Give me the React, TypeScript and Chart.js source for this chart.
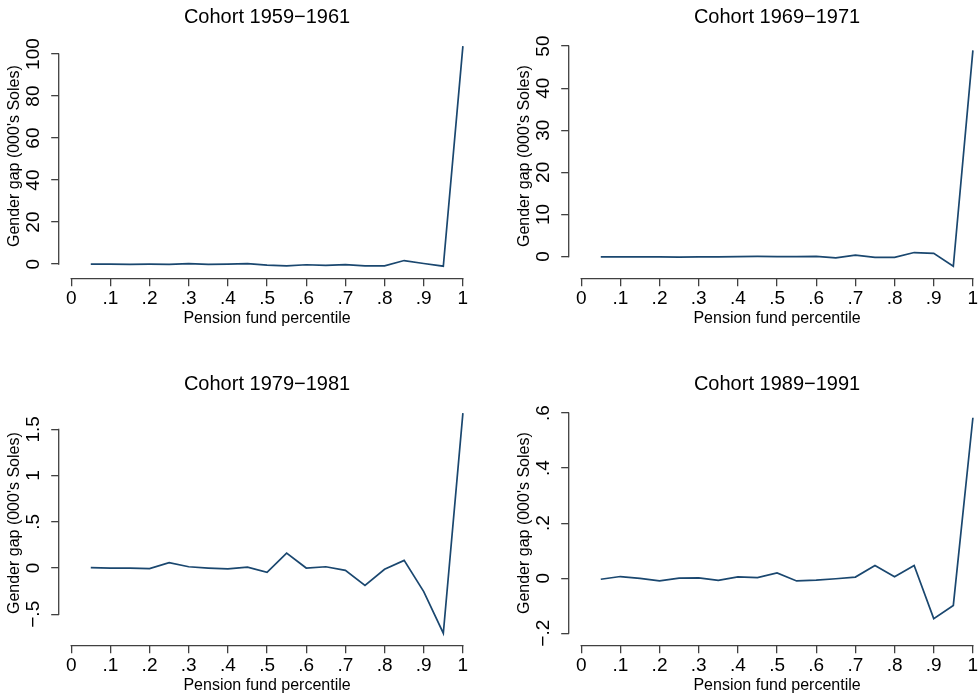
import React, { useEffect, useRef } from "react";
import { Chart, registerables } from "chart.js";

Chart.register(...registerables);

// ---------------- data ----------------
const percentiles = [0.05, 0.1, 0.15, 0.2, 0.25, 0.3, 0.35, 0.4, 0.45, 0.5, 0.55, 0.6, 0.65, 0.7, 0.75, 0.8, 0.85, 0.9, 0.95, 1.0];

const gap1959 = [0, 0, -0.1, 0, -0.1, 0.2, -0.1, 0, 0.2, -0.5, -0.8, -0.3, -0.6, -0.2, -0.8, -0.8, 1.7, 0.3, -1.0, 103.8];
const gap1969 = [-0.1, -0.1, -0.1, -0.1, -0.15, -0.1, -0.1, 0, 0.05, 0, 0, 0.05, -0.3, 0.35, -0.2, -0.2, 0.95, 0.75, -2.3, 49.0];
const gap1979 = [0.004, 0, 0, -0.007, 0.058, 0.014, 0, -0.01, 0.01, -0.047, 0.162, 0, 0.014, -0.025, -0.187, -0.014, 0.083, -0.255, -0.705, 1.676];
const gap1989 = [-0.004, 0.006, -0.001, -0.01, 0, 0.001, -0.008, 0.005, 0.002, 0.019, -0.01, -0.007, -0.002, 0.004, 0.046, 0.005, 0.046, -0.147, -0.099, 0.583];

const titles = ["Cohort 1959\u22121961", "Cohort 1969\u22121971", "Cohort 1979\u22121981", "Cohort 1989\u22121991"];

const xTickValues = [0, 0.1, 0.2, 0.3, 0.4, 0.5, 0.6, 0.7, 0.8, 0.9, 1];
const xTickLabels = ["0", ".1", ".2", ".3", ".4", ".5", ".6", ".7", ".8", ".9", "1"];

const yTicks1959 = [0, 20, 40, 60, 80, 100];
const yLabels1959 = ["0", "20", "40", "60", "80", "100"];
const yTicks1969 = [0, 10, 20, 30, 40, 50];
const yLabels1969 = ["0", "10", "20", "30", "40", "50"];
const yTicks1979 = [-0.5, 0, 0.5, 1, 1.5];
const yLabels1979 = ["\u2212.5", "0", ".5", "1", "1.5"];
const yTicks1989 = [-0.2, 0, 0.2, 0.4, 0.6];
const yLabels1989 = ["\u2212.2", "0", ".2", ".4", ".6"];

const xTitle = "Pension fund percentile";
const yTitle = "Gender gap (000's Soles)";

// ---------------- styles / layout ----------------
const FONT = '"Liberation Sans", Arial, Helvetica, sans-serif';
const LINE_COLOR = "#1a476f";
const AXIS_COLOR = "#404040";
const TEXT_COLOR = "#000000";

const PANEL_W = 490;
const PANEL_H = 330;
const AXIS_LEFT = 58.7; // width of y-axis box
const X_AXIS_H = 51.3; // height of x-axis box
const PAD = 12.5; // gap between plot region and axis lines
const PLOT_W = 391.7;
const PLOT_H = 220.3;
const TICK_LEN = 7.5;
const TICK_FONT = 19;
const Y_LABEL_OFFSET = 24.7; // axis line -> centre of rotated y tick labels

function labelFor(values: number[], labels: string[], v: number): string {
  for (let i = 0; i < values.length; i++) {
    if (Math.abs(values[i] - v) < 1e-9) return labels[i];
  }
  return "";
}

function measureWidest(labels: string[]): number {
  const c = document.createElement("canvas");
  const ctx = c.getContext("2d");
  if (!ctx) return 0;
  ctx.font = `${TICK_FONT}px ${FONT}`;
  let w = 0;
  for (const l of labels) w = Math.max(w, ctx.measureText(l).width);
  return w;
}

type PanelProps = {
  title: string;
  ys: number[];
  yTicks: number[];
  yLabels: string[];
  left: number;
  top: number;
};

function Panel({ title, ys, yTicks, yLabels, left, top }: PanelProps) {
  const ref = useRef<HTMLCanvasElement | null>(null);

  useEffect(() => {
    if (!ref.current) return;
    const lo = Math.min(Math.min(...ys), yTicks[0]);
    const hi = Math.max(Math.max(...ys), yTicks[yTicks.length - 1]);
    const yPad = ((hi - lo) * PAD) / PLOT_H;
    const xPad = PAD / PLOT_W;
    const widest = measureWidest(yLabels);
    const yTickPadding = Y_LABEL_OFFSET - TICK_LEN - widest / 2;

    const axisLines = {
      id: "stataAxes",
      afterDraw(chart: any) {
        const { ctx, chartArea, scales } = chart;
        const x = scales.x;
        const y = scales.y;
        ctx.save();
        ctx.strokeStyle = AXIS_COLOR;
        ctx.lineWidth = 1.3;
        ctx.lineCap = "square";
        ctx.beginPath();
        ctx.moveTo(chartArea.left, y.getPixelForValue(yTicks[0]));
        ctx.lineTo(chartArea.left, y.getPixelForValue(yTicks[yTicks.length - 1]));
        ctx.moveTo(x.getPixelForValue(xTickValues[0]), chartArea.bottom);
        ctx.lineTo(x.getPixelForValue(xTickValues[xTickValues.length - 1]), chartArea.bottom);
        ctx.stroke();
        ctx.restore();
      },
    };

    const chart = new Chart(ref.current, {
      type: "line",
      data: {
        datasets: [
          {
            data: percentiles.map((p, i) => ({ x: p, y: ys[i] })),
            borderColor: LINE_COLOR,
            borderWidth: 1.7,
            pointRadius: 0,
            tension: 0,
            fill: false,
            clip: false as any,
          },
        ],
      },
      options: {
        animation: false,
        responsive: false,
        maintainAspectRatio: false,
        layout: {
          padding: { left: 0, top: 0, bottom: 0, right: PANEL_W - AXIS_LEFT - (PLOT_W + 2 * PAD) },
        },
        plugins: {
          legend: { display: false },
          tooltip: { enabled: false },
          title: {
            display: true,
            text: title,
            fullSize: false,
            color: TEXT_COLOR,
            font: { family: FONT, size: 20, weight: "normal" },
            padding: { top: 5, bottom: 4.6 },
          },
        },
        scales: {
          x: {
            type: "linear",
            min: 0 - xPad,
            max: 1 + xPad,
            afterBuildTicks: (s: any) => {
              s.ticks = xTickValues.map((v) => ({ value: v }));
            },
            afterFit: (s: any) => {
              s.height = X_AXIS_H;
            },
            ticks: {
              autoSkip: false,
              maxRotation: 0,
              minRotation: 0,
              padding: 1,
              color: TEXT_COLOR,
              font: { family: FONT, size: TICK_FONT },
              callback: (v: any) => labelFor(xTickValues, xTickLabels, Number(v)),
            },
            grid: {
              display: true,
              drawOnChartArea: false,
              drawTicks: true,
              tickLength: TICK_LEN,
              color: AXIS_COLOR,
              lineWidth: 1.3,
            },
            border: { display: false },
            title: {
              display: true,
              text: xTitle,
              color: TEXT_COLOR,
              font: { family: FONT, size: 16 },
              padding: { top: 0, bottom: 1.4 },
            },
          },
          y: {
            type: "linear",
            min: lo - yPad,
            max: hi + yPad,
            afterBuildTicks: (s: any) => {
              s.ticks = yTicks.map((v) => ({ value: v }));
            },
            afterFit: (s: any) => {
              s.width = AXIS_LEFT;
            },
            ticks: {
              autoSkip: false,
              minRotation: 90,
              maxRotation: 90,
              crossAlign: "center",
              padding: yTickPadding,
              color: TEXT_COLOR,
              font: { family: FONT, size: TICK_FONT },
              callback: (v: any) => labelFor(yTicks, yLabels, Number(v)),
            },
            grid: {
              display: true,
              drawOnChartArea: false,
              drawTicks: true,
              tickLength: TICK_LEN,
              color: AXIS_COLOR,
              lineWidth: 1.3,
            },
            border: { display: false },
            title: {
              display: true,
              text: yTitle,
              color: TEXT_COLOR,
              font: { family: FONT, size: 16 },
              padding: { top: 5.4, bottom: 0 },
            },
          },
        },
      } as any,
      plugins: [axisLines],
    });
    return () => chart.destroy();
  }, [title, ys, yTicks, yLabels]);

  return (
    <canvas
      ref={ref}
      width={PANEL_W}
      height={PANEL_H}
      style={{ position: "absolute", left, top, width: PANEL_W, height: PANEL_H }}
    />
  );
}

export default function App() {
  return (
    <div
      style={{
        position: "absolute",
        left: 0,
        top: 0,
        width: 980,
        height: 697,
        overflow: "hidden",
        background: "#ffffff",
      }}
    >
      <Panel title={titles[0]} ys={gap1959} yTicks={yTicks1959} yLabels={yLabels1959} left={0} top={0} />
      <Panel title={titles[1]} ys={gap1969} yTicks={yTicks1969} yLabels={yLabels1969} left={510} top={0} />
      <Panel title={titles[2]} ys={gap1979} yTicks={yTicks1979} yLabels={yLabels1979} left={0} top={367} />
      <Panel title={titles[3]} ys={gap1989} yTicks={yTicks1989} yLabels={yLabels1989} left={510} top={367} />
    </div>
  );
}
